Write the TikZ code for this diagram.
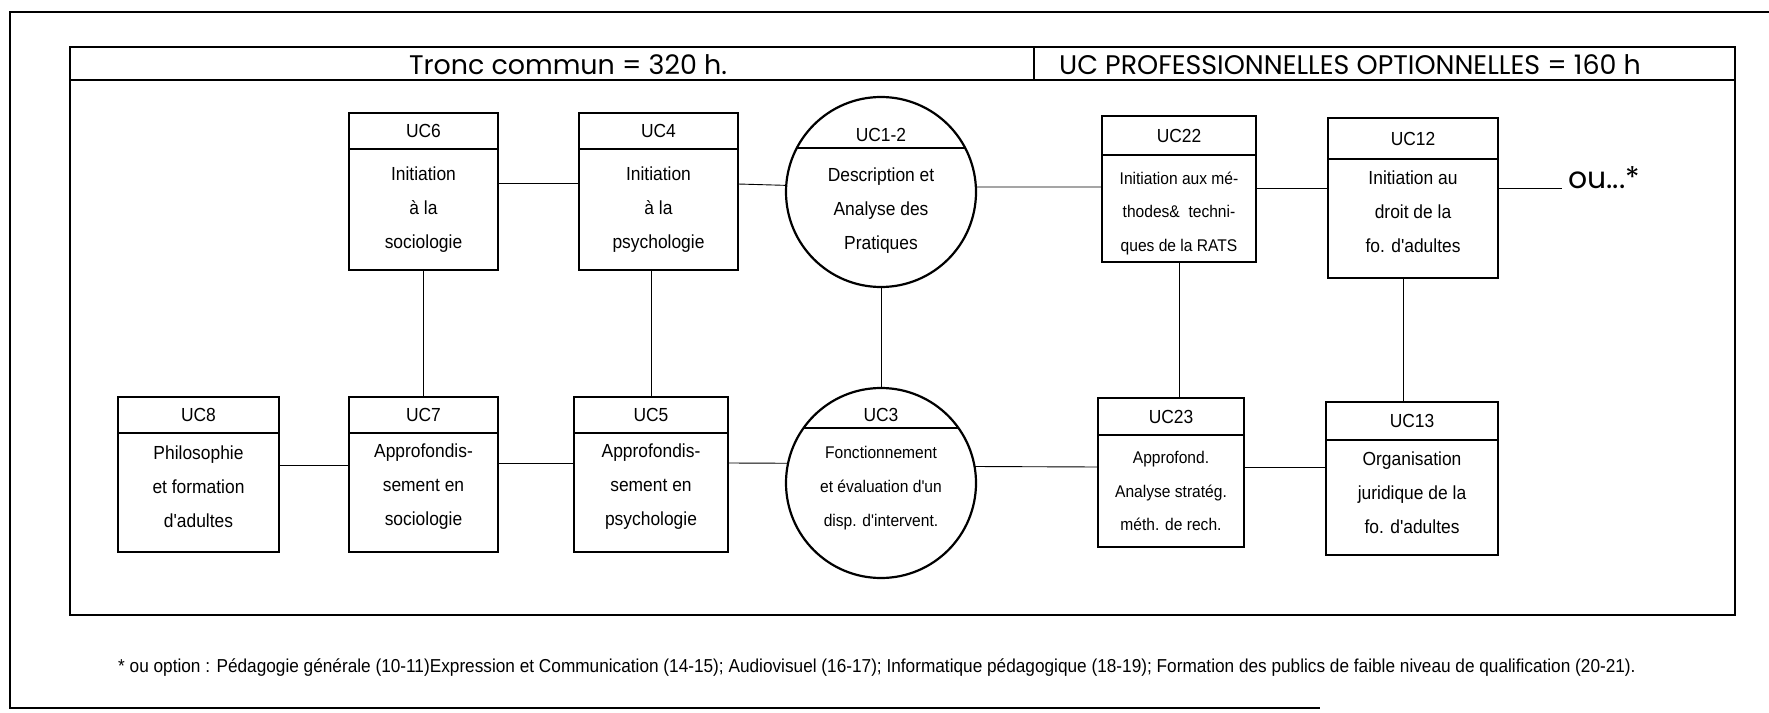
\documentclass[tikz,border=0pt]{standalone}
\usepackage{fontspec}
\setmainfont{Liberation Sans}
\newfontfamily\nar{Liberation Sans}[FakeStretch=0.92]
\newfontfamily\geo{Poppins}
\usetikzlibrary{calc,shapes.geometric}
\tikzset{
  ucrect/.style={draw, line width=2.2bp, inner sep=0pt, outer sep=0pt},
  hline/.style={line width=2.6bp},
  conn/.style={line width=0.9bp},
  framel/.style={line width=1.8bp},
  uctitle/.style={font=\nar\fontsize{19}{21}\selectfont, inner sep=0pt},
  ucbody/.style={font=\nar\fontsize{19}{34}\selectfont, align=center, inner sep=0pt},
  ucsmall/.style={font=\nar\fontsize{17}{34}\selectfont, align=center, inner sep=0pt},
  hdr/.style={font=\geo\fontsize{27}{29}\selectfont, inner sep=0pt},
  oustyle/.style={font=\geo\fontsize{30}{32}\selectfont, inner sep=0pt},
  foot/.style={font=\nar\fontsize{18.8}{20}\selectfont, inner sep=0pt, anchor=west},
}
% name, x-left, y-top, width, height, header height, title, body, body style
\newcommand\ucbox[9]{%
  \node[ucrect, minimum width=#4bp, minimum height=#5bp, anchor=north west] (#1) at (#2,#3) {};
  \draw[hline] ([yshift=-#6bp]#1.north west) -- ([yshift=-#6bp]#1.north east);
  \node[uctitle] (#1-t) at ($(#1.north)+(0,#6/2)$) {#7};
  \node[#9] (#1-b) at ($(#1.south)!0.5!([yshift=-#6bp]#1.north)$) {#8};
}
% name, cx, cy, r, chord offset above centre (positive), title, body, body style
\newcommand\uccirc[8]{%
  \node[ucrect, circle, minimum size=2*#4bp] (#1) at (#2,#3) {};
  \pgfmathsetmacro\hw{sqrt(#4*#4-#5*#5)}
  \draw[hline] ($(#1.center)+(-\hw,-#5)$) -- ($(#1.center)+(\hw,-#5)$);
  \node[uctitle] (#1-t) at ($(#1.center|-0,#3-#5)+(0,-13)$) {#6};
  \node[#8] (#1-b) at ($(#1.south)!0.5!(#1.center|-0,#3-#5)$) {#7};
}
\begin{document}
\begin{tikzpicture}[x=1bp,y=-1bp]
\useasboundingbox (0,0) rectangle (1769,713);
% outer frame
\coordinate (otl) at (10,12);
\coordinate (otr) at (1769,12);
\coordinate (obl) at (10,708);
\coordinate (obr) at (1320,708);
\draw[framel] (otr) -- (otl) -- (obl) -- (obr);
% inner frame
\node[draw, framel, inner sep=0pt, outer sep=0pt, minimum width=1665bp, minimum height=568bp, anchor=north west] (inner) at (70,47) {};
\draw[framel] ([yshift=-33bp]inner.north west) -- ([yshift=-33bp]inner.north east);
\draw[framel] (inner.north west -| 1034,0) -- ([yshift=-33bp]inner.north west -| 1034,0);
\node[hdr] (h1) at (568,65) {Tronc commun = 320 h.};
\node[hdr] (h2) at (1350,65) {UC PROFESSIONNELLES OPTIONNELLES = 160 h};

% top row
\ucbox{uc6}{349}{113}{149}{157}{36}{UC6}{Initiation\\à la\\sociologie}{ucbody}
\ucbox{uc4}{579}{113}{159}{157}{36}{UC4}{Initiation\\à la\\psychologie}{ucbody}
\uccirc{uc12}{881}{192}{95}{44}{UC1-2}{Description et\\Analyse des\\Pratiques}{ucbody,yshift=7bp}
\ucbox{uc22}{1102}{116}{154}{146}{39}{UC22}{Initiation aux mé-\\thodes\&\ \ techni-\\ques de la RATS}{ucsmall,yshift=-5bp}
\ucbox{uc12b}{1328}{118}{170}{160}{41}{UC12}{Initiation au\\droit de la\\fo. d'adultes}{ucbody,yshift=7bp}
\node[oustyle, anchor=west] (ou) at (1568,178) {ou...*};

% bottom row
\ucbox{uc8}{118}{397}{161}{155}{36}{UC8}{Philosophie\\et formation\\d'adultes}{ucbody,yshift=6bp}
\ucbox{uc7}{349}{397}{149}{155}{36}{UC7}{Approfondis-\\sement en\\sociologie}{ucbody,yshift=6bp}
\ucbox{uc5}{574}{397}{154}{155}{36}{UC5}{Approfondis-\\sement en\\psychologie}{ucbody,yshift=6bp}
\uccirc{uc3}{881}{483}{95}{55}{UC3}{Fonctionnement\\et évaluation d'un\\disp. d'intervent.}{ucsmall,yshift=15bp}
\ucbox{uc23}{1098}{398}{146}{149}{37}{UC23}{Approfond.\\Analyse stratég.\\méth. de rech.}{ucsmall}
\ucbox{uc13}{1326}{402}{172}{153}{38}{UC13}{Organisation\\juridique de la\\fo. d'adultes}{ucbody,yshift=5bp}

% horizontal connectors, top
\draw[conn] (uc6.east |- 0,183) -- (uc4.west |- 0,183);
\draw[conn] (uc4.east |- 0,184) -- (uc12.176);
\draw[conn] (uc12.3) -- (uc22.west |- 0,187);
\draw[conn] (uc22.east |- 0,188) -- (uc12b.west |- 0,188);
\draw[conn] (uc12b.east |- 0,188) -- ([xshift=-6bp]ou.west |- 0,188);
% horizontal connectors, bottom
\draw[conn] (uc8.east |- 0,465) -- (uc7.west |- 0,465);
\draw[conn] (uc7.east |- 0,463) -- (uc5.west |- 0,463);
\draw[conn] (uc5.east |- 0,463) -- (uc3.168);
\draw[conn] (uc3.10) -- (uc23.west |- 0,467);
\draw[conn] (uc23.east |- 0,467) -- (uc13.west |- 0,467);
% vertical connectors
\draw[conn] (uc6.south) -- (uc7.north);
\draw[conn] (uc5.north |- uc4.south) -- (uc5.north);
\draw[conn] (uc12.south) -- (uc3.north);
\draw[conn] (uc22.south) -- (uc22.south |- uc23.north);
\draw[conn] ([xshift=-10bp]uc12b.south) -- ([xshift=-10bp]uc12b.south |- uc13.north);

% footnote
\node[foot] (fn) at (118,668) {* ou option : Pédagogie générale (10-11)Expression et Communication (14-15); Audiovisuel (16-17); Informatique pédagogique (18-19); Formation des publics de faible niveau de qualification (20-21).};
\end{tikzpicture}
\end{document}
